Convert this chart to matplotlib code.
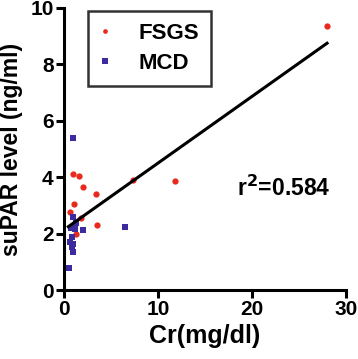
import numpy as np
import matplotlib
matplotlib.use("Agg")
import matplotlib.pyplot as plt

plt.rcParams["font.family"] = ["Liberation Sans", "DejaVu Sans"]
plt.rcParams["font.weight"] = "bold"

# FSGS group (red circles)
fsgs_cr = [28.0, 7.3, 11.8, 3.4, 3.5, 1.0, 1.6, 2.0, 1.1, 0.64, 1.8, 1.3]
fsgs_supar = [9.36, 3.9, 3.88, 3.41, 2.3, 4.13, 4.04, 3.66, 3.05, 2.78, 2.54, 1.98]

# MCD group (blue squares)
mcd_cr = [0.9, 0.9, 0.7, 1.2, 2.05, 6.45, 0.64, 1.0, 0.8, 1.0, 0.56, 0.8, 1.3]
mcd_supar = [5.39, 2.58, 2.19, 2.15, 2.13, 2.22, 1.71, 1.65, 1.54, 1.36, 0.79, 1.89, 2.36]

# regression line
slope = 0.236
intercept = 2.14
r2 = 0.584

fig = plt.figure(figsize=(3.58, 3.59), dpi=100)
ax = fig.add_axes([0.179, 0.192, 0.787, 0.786])

ax.plot(fsgs_cr, fsgs_supar, "o", color="#e8291c", markersize=4.5,
        markeredgewidth=0, label="FSGS", clip_on=False)
ax.plot(mcd_cr, mcd_supar, "s", color="#3b2b9e", markersize=5,
        markeredgewidth=0, label="MCD", clip_on=False)

all_x = np.array(fsgs_cr + mcd_cr)
xs = np.array([0.45, all_x.max()])
ax.plot(xs, intercept + slope * xs, color="black", linewidth=2.2)

ax.text(18.4, 3.6, "r$^\\mathbf{2}$=" + str(r2), fontsize=16.5,
        fontweight="bold", va="center")

ax.set_xlim(0, 30)
ax.set_ylim(0, 10)
ax.set_xticks([0, 10, 20, 30])
ax.set_yticks([0, 2, 4, 6, 8, 10])
ax.set_xlabel("Cr(mg/dl)", fontsize=18, fontweight="bold", labelpad=3)
ax.set_ylabel("suPAR level (ng/ml)", fontsize=16.5, fontweight="bold", labelpad=5)

for s in ["top", "right"]:
    ax.spines[s].set_visible(False)
for s in ["left", "bottom"]:
    ax.spines[s].set_linewidth(2.2)
ax.tick_params(width=2.2, length=6, labelsize=15, pad=1.5)
for lab in ax.get_xticklabels() + ax.get_yticklabels():
    lab.set_fontweight("bold")

leg = ax.legend(loc="upper left", bbox_to_anchor=(0.085, 0.99), fontsize=16,
                frameon=True, fancybox=False, edgecolor="black",
                handletextpad=1.26, borderpad=0.55, labelspacing=0.4,
                handlelength=0.45, markerscale=0.75, borderaxespad=0)
leg.get_frame().set_linewidth(1.8)

fig.savefig("out.png", dpi=100)
